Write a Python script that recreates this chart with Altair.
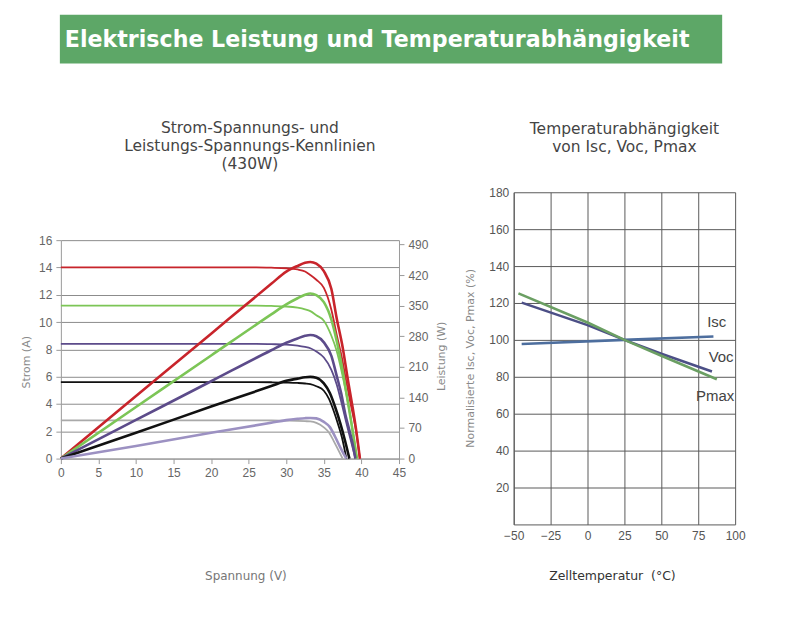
import altair as alt
import pandas as pd

# ---------------- data ----------------
volt_ticks = [0, 5, 10, 15, 20, 25, 30, 35, 40, 45]
amp_ticks = [0, 2, 4, 6, 8, 10, 12, 14, 16]
watt_ticks = [0, 70, 140, 210, 280, 350, 420, 490]

# current curves (thin)
i1000_v = [0, 10, 20, 26, 28, 30, 31.5, 32.5, 33.2, 34, 35, 36, 36.7, 37.4, 38, 38.6, 39.2, 39.8]
i1000_a = [14, 14, 14, 14, 13.98, 13.94, 13.85, 13.7, 13.45, 13.1, 12.5, 10.9, 9.1, 7.4, 5.6, 3.9, 2.3, 0]
i800_v = [0, 10, 20, 26, 28, 30, 31.5, 32.5, 33.2, 34, 35, 36, 36.7, 37.4, 38, 38.5, 38.9, 39.4]
i800_a = [11.2, 11.2, 11.2, 11.2, 11.18, 11.14, 11.05, 10.93, 10.8, 10.5, 10.1, 9.0, 7.9, 6.3, 4.7, 3.2, 1.8, 0]
i600_v = [0, 10, 20, 26, 28, 30, 31.5, 32.5, 33.2, 34, 35, 36, 36.7, 37.3, 38, 38.6, 39.2]
i600_a = [8.4, 8.4, 8.4, 8.4, 8.38, 8.35, 8.28, 8.18, 8.08, 7.85, 7.4, 6.5, 5.45, 4.2, 2.6, 1.3, 0]
i400_v = [0, 10, 20, 26, 28, 30, 31.5, 32.5, 33.2, 34, 35, 35.7, 36.3, 36.9, 37.4, 38.0]
i400_a = [5.6, 5.6, 5.6, 5.6, 5.59, 5.57, 5.54, 5.5, 5.45, 5.3, 4.97, 4.35, 3.5, 2.5, 1.56, 0]
i200_v = [0, 10, 20, 26, 28, 30, 31.5, 32.5, 33.2, 34, 35, 35.7, 36.3, 36.9, 37.5]
i200_a = [2.8, 2.8, 2.8, 2.8, 2.79, 2.78, 2.76, 2.74, 2.72, 2.62, 2.29, 1.9, 1.3, 0.65, 0]

# power curves (thick)
p1000_v = [0, 10, 20, 28, 30, 31.5, 32.5, 33.2, 34, 35, 36, 36.7, 37.5, 38.2, 38.8, 39.3, 39.8]
p1000_w = [0, 143, 286, 400, 428, 441, 448, 450, 446, 429, 388, 322, 255, 180, 120, 65, 0]
p800_v = [0, 10, 20, 28, 30, 31.5, 32.5, 33.2, 34, 35, 36, 36.7, 37.4, 38.0, 38.6, 39.0, 39.4]
p800_w = [0, 118, 236, 330, 353, 367, 375, 378, 374, 358, 318, 270, 210, 150, 88, 45, 0]
p600_v = [0, 10, 20, 28, 30, 31.5, 32.5, 33.2, 34, 35, 36, 36.7, 37.3, 37.9, 38.5, 38.9, 39.2]
p600_w = [0, 88.5, 177, 248, 265, 275, 281, 283, 280, 266, 235, 190, 150, 98, 58, 28, 0]
p400_v = [0, 10, 20, 28, 30, 31.5, 32.5, 33.2, 34, 35, 35.8, 36.5, 37.2, 37.8, 38.4]
p400_w = [0, 59, 119, 166, 178, 183, 186, 187, 185, 172, 150, 118, 80, 42, 0]
p200_v = [0, 10, 20, 28, 30, 31.5, 32.5, 33.2, 34, 35, 35.8, 36.5, 37.2, 37.6, 38.0]
p200_w = [0, 29, 59, 82, 88, 91, 92.5, 93, 92, 84, 72, 50, 25, 12, 0]

# temperature dependence
temp_ticks = [-50, -25, 0, 25, 50, 75, 100]
pct_ticks = [20, 40, 60, 80, 100, 120, 140, 160, 180]
isc_t = [-44.6, 25, 85.3]
isc_p = [97.8, 100, 101.8]
voc_t = [-44.6, 0, 25, 50, 84.3]
voc_p = [120.2, 108.0, 100, 92.5, 82.9]
pmax_t = [-46.8, 0, 25, 50, 87.6]
pmax_p = [125.2, 109.4, 100, 91.4, 78.7]
label_names = ["Isc", "Voc", "Pmax"]
label_t = [87.5, 90.5, 86.5]
label_p = [109.5, 90.5, 69.5]

# ---------------- tables ----------------
def long(name, xs, ys, xn, yn, key):
    return pd.DataFrame({xn: xs, yn: ys, key: name, "order": range(len(xs))})

cur_df = pd.concat([
    long("I1000", i1000_v, i1000_a, "V", "I", "series"),
    long("I800", i800_v, i800_a, "V", "I", "series"),
    long("I600", i600_v, i600_a, "V", "I", "series"),
    long("I400", i400_v, i400_a, "V", "I", "series"),
    long("I200", i200_v, i200_a, "V", "I", "series"),
])
pow_df = pd.concat([
    long("P1000", p1000_v, p1000_w, "V", "P", "series"),
    long("P800", p800_v, p800_w, "V", "P", "series"),
    long("P600", p600_v, p600_w, "V", "P", "series"),
    long("P400", p400_v, p400_w, "V", "P", "series"),
    long("P200", p200_v, p200_w, "V", "P", "series"),
])
temp_df = pd.concat([
    long("Isc", isc_t, isc_p, "T", "val", "tser"),
    long("Voc", voc_t, voc_p, "T", "val", "tser"),
    long("Pmax", pmax_t, pmax_p, "T", "val", "tser"),
])
lab_df = pd.DataFrame({"name": label_names, "T": label_t, "val": label_p})

TF = "DejaVu Sans"
LF = "Liberation Sans"

# left panel: view is 267 tall, plot occupies the lower 219 px (range 267 -> 48)
L_H = 267
L_TOP = 48

series_dom = ["I1000", "I800", "I600", "I400", "I200", "P1000", "P800", "P600", "P400", "P200"]
series_rng = ["#c8242b", "#7cc556", "#5c4b8a", "#111111", "#a9a9a9",
              "#c8242b", "#7cc556", "#5c4b8a", "#111111", "#9c91c2"]
color_enc = alt.Color("series:N", scale=alt.Scale(domain=series_dom, range=series_rng), legend=None)

left_x = alt.X("V:Q", scale=alt.Scale(domain=[0, 45], nice=False),
               axis=alt.Axis(values=volt_ticks, title="Spannung (V)", grid=False, labelFlush=False,
                             tickSize=5, tickColor="#9a9a9a", domainColor="#9a9a9a",
                             labelColor="#666666", labelFont=LF, labelFontSize=12, labelPadding=4,
                             titleX=185, titleY=117, titleBaseline="middle", titleAlign="center",
                             titleFont=TF, titleFontSize=12, titleFontWeight="normal",
                             titleColor="#777777"))

cur = alt.Chart(cur_df).mark_line(strokeWidth=1.8, interpolate="monotone").encode(
    x=left_x,
    y=alt.Y("I:Q", scale=alt.Scale(domain=[0, 16], range=[L_H, L_TOP], nice=False),
            axis=alt.Axis(orient="left", values=amp_ticks, title="Strom (A)", grid=True,
                          labelFlush=False,
                          gridColor="#8c8c8c", gridWidth=1, tickSize=5, tickColor="#9a9a9a",
                          domainColor="#9a9a9a", labelColor="#666666", labelFont=LF,
                          labelFontSize=12, labelPadding=4,
                          titleX=-34, titleY=122 + L_TOP, titleAngle=-90, titleBaseline="middle",
                          titleAlign="center", titleFont=TF, titleFontSize=11,
                          titleFontWeight="normal", titleColor="#8a8a8a")),
    color=color_enc,
    order="order:Q",
)

pw = alt.Chart(pow_df).mark_line(strokeWidth=2.6, interpolate="monotone").encode(
    x=left_x,
    y=alt.Y("P:Q", scale=alt.Scale(domain=[0, 500], range=[L_H, L_TOP], nice=False),
            axis=alt.Axis(orient="right", values=watt_ticks, title="Leistung (W)", grid=False,
                          labelFlush=False,
                          tickSize=5, tickColor="#9a9a9a", domainColor="#9a9a9a",
                          labelColor="#666666", labelFont=LF, labelFontSize=12, labelPadding=4,
                          titleX=43, titleY=116 + L_TOP, titleAngle=-90, titleBaseline="middle",
                          titleAlign="center", titleFont=TF, titleFontSize=11,
                          titleFontWeight="normal", titleColor="#8a8a8a")),
    color=color_enc,
    order="order:Q",
)

left = alt.layer(cur, pw).resolve_scale(y="independent").properties(
    width=339, height=L_H,
    title=alt.TitleParams(text=["Strom-Spannungs- und", "Leistungs-Spannungs-Kennlinien", "(430W)"],
                          font=TF, fontSize=15.5, fontWeight="normal", color="#444444",
                          anchor="middle", offset=20, lineHeight=18, dx=20),
)

temp_color = alt.Color("tser:N", scale=alt.Scale(domain=["Isc", "Voc", "Pmax"],
                                                 range=["#4d6e9e", "#4c4f86", "#6b9f63"]),
                       legend=None)
rx = alt.X("T:Q", scale=alt.Scale(domain=[-50, 100], nice=False),
           axis=alt.Axis(values=temp_ticks, grid=True, gridColor="#5a5a5a", domainColor="#5a5a5a",
                         labelFlush=False,
                         tickSize=0, labelColor="#555555", labelFont=LF, labelFontSize=12,
                         labelPadding=6, title="Zelltemperatur\u00a0 (°C)",
                         titleX=98.5, titleY=51, titleBaseline="middle", titleAlign="center",
                         titleFont=TF, titleFontSize=12.5, titleFontWeight="normal",
                         titleColor="#333333"))
ry = alt.Y("val:Q", scale=alt.Scale(domain=[0, 180], nice=False),
           axis=alt.Axis(values=pct_ticks, grid=True, gridColor="#5a5a5a", domainColor="#5a5a5a",
                         labelFlush=False,
                         tickSize=0, labelColor="#555555", labelFont=LF, labelFontSize=12,
                         labelPadding=5, title="Normalisierte Isc, Voc, Pmax (%)",
                         titleX=-43, titleY=166, titleAngle=-90, titleBaseline="middle",
                         titleAlign="center", titleFont=TF, titleFontSize=11,
                         titleFontWeight="normal", titleColor="#8a8a8a"))

tlines = alt.Chart(temp_df).mark_line(strokeWidth=2.6).encode(
    x=rx, y=ry, color=temp_color, order="order:Q")
tlabels = alt.Chart(lab_df).mark_text(font=LF, fontSize=15, color="#444444").encode(
    x=rx, y=ry, text="name:N")

right = alt.layer(tlines, tlabels).properties(
    width=222, height=333,
    title=alt.TitleParams(text=["Temperaturabhängigkeit", "von Isc, Voc, Pmax"],
                          font=TF, fontSize=15.5, fontWeight="normal", color="#444444",
                          anchor="middle", offset=31, lineHeight=18),
)

one = pd.DataFrame({"a": [0]})


def spacer(w, h):
    return alt.Chart(one).mark_point(opacity=0, size=0).encode(
        x=alt.value(w / 2), y=alt.value(h / 2)).properties(width=w, height=h)


hdr_rect = alt.Chart(one).mark_rect(color="#5da767").encode(
    x=alt.value(51), x2=alt.value(715), y=alt.value(5), y2=alt.value(54))
hdr_text = alt.Chart(one).mark_text(
    text="Elektrische Leistung und Temperaturabhängigkeit", font="DejaVu Sans",
    fontWeight="bold", fontSize=22.2, color="white", align="left", baseline="alphabetic"
).encode(x=alt.value(56), y=alt.value(37))
header = alt.layer(hdr_rect, hdr_text).properties(width=778, height=60)

row = alt.hconcat(spacer(52, 2), left, spacer(115, 2), right, spacing=0,
                  bounds="flush").resolve_scale(color="independent")

chart = alt.vconcat(header, row, spacing=123, bounds="flush").resolve_scale(
    color="independent"
).properties(
    padding=0, background="white"
).configure_view(stroke="transparent")

chart.save("out.html", embed_options={"renderer": "svg", "actions": False})
